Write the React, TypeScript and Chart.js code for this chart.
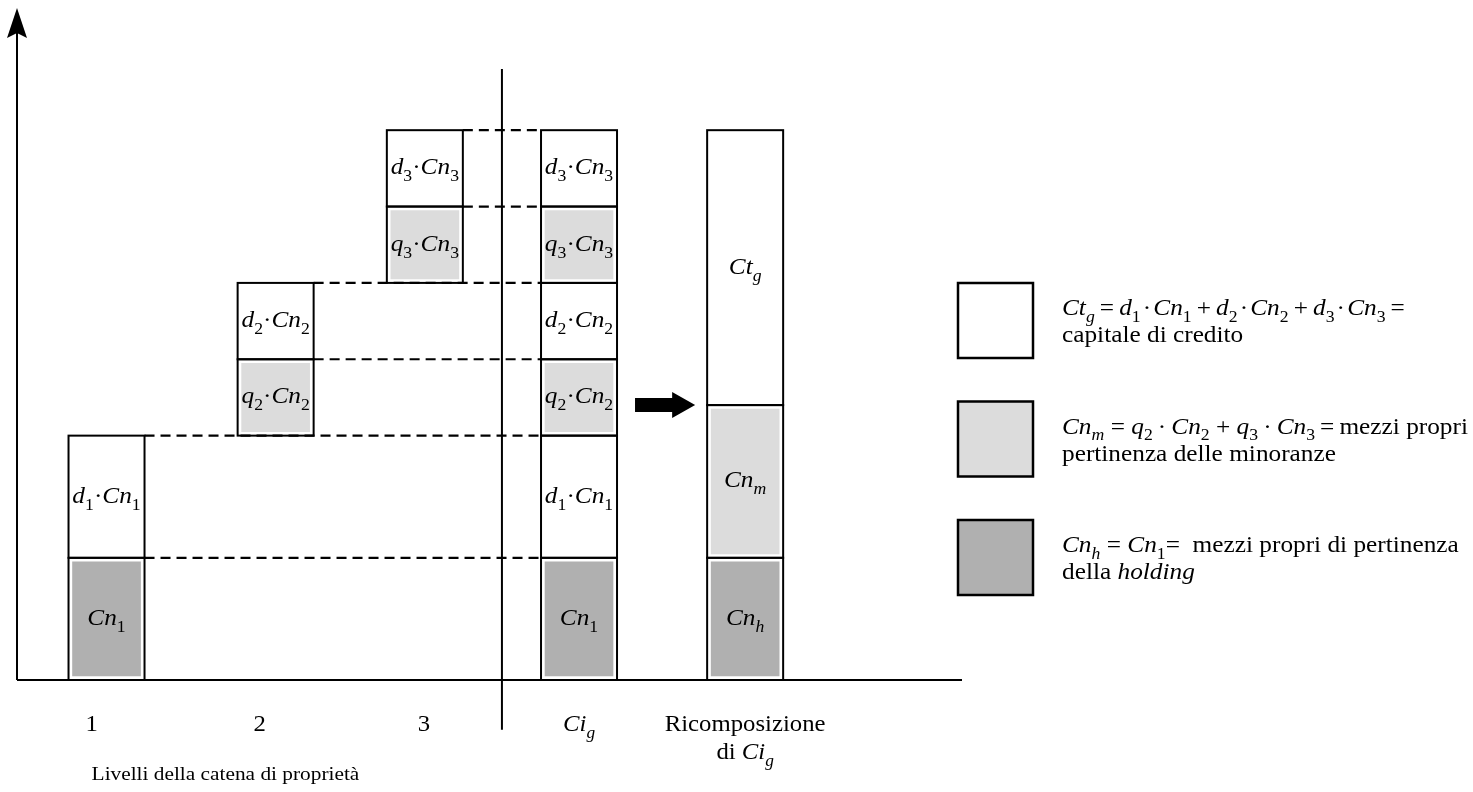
import React, { useEffect, useRef } from 'react';
import { Chart, registerables } from 'chart.js';

Chart.register(...registerables);

type Run = { t: string; i?: boolean; s?: boolean };

// ---- data ----
const CATEGORY_X = [0.9, 2.6, 4.1, 5.65, 7.32]; // levels 1,2,3, Ci_g, Ricomposizione
const TICK_X = [0.75, 2.44, 4.09, 5.65, 7.32];
const LEVEL_NAMES = ['1', '2', '3'];
const LEVEL_EQUITY = [1.6, 1, 1]; // Cn1 (holding), q2·Cn2, q3·Cn3
const LEVEL_DEBT = [1.6, 1, 1]; // d1·Cn1, d2·Cn2, d3·Cn3
const X_MAX = 9.5;
const Y_MAX = 8.8;
const DIVIDER_TOP = 8.0;
const DIVIDER_BOTTOM = -0.65;

const TS = '\u2009';
const HS = '\u200A';
const DOT = TS + '·' + TS;
const DOT_T = HS + '·' + HS;
const PLUS_T = TS + '+' + TS;

const TICK_LABELS: Run[][][] = [
  [[{ t: '1' }]],
  [[{ t: '2' }]],
  [[{ t: '3' }]],
  [[{ t: 'Ci', i: true }, { t: 'g', i: true, s: true }]],
  [[{ t: 'Ricomposizione' }], [{ t: 'di ' }, { t: 'Ci', i: true }, { t: 'g', i: true, s: true }]],
];
const AXIS_TITLE = 'Livelli della catena di proprietà';

const LEGEND_KINDS = ['credit', 'minority', 'holding'];
const LEGEND_TEXT: Run[][][] = [
  [
    [
      { t: 'Ct', i: true }, { t: 'g', i: true, s: true }, { t: TS + '=' + TS },
      { t: 'd', i: true }, { t: '1', s: true }, { t: DOT_T }, { t: 'Cn', i: true }, { t: '1', s: true }, { t: PLUS_T },
      { t: 'd', i: true }, { t: '2', s: true }, { t: DOT_T }, { t: 'Cn', i: true }, { t: '2', s: true }, { t: PLUS_T },
      { t: 'd', i: true }, { t: '3', s: true }, { t: DOT_T }, { t: 'Cn', i: true }, { t: '3', s: true }, { t: TS + '=' },
    ],
    [{ t: 'capitale di credito' }],
  ],
  [
    [
      { t: 'Cn', i: true }, { t: 'm', i: true, s: true }, { t: ' = ' },
      { t: 'q', i: true }, { t: '2', s: true }, { t: DOT }, { t: 'Cn', i: true }, { t: '2', s: true }, { t: ' + ' },
      { t: 'q', i: true }, { t: '3', s: true }, { t: DOT }, { t: 'Cn', i: true }, { t: '3', s: true },
      { t: TS + '=' + TS + 'mezzi propri di' },
    ],
    [{ t: 'pertinenza delle minoranze' }],
  ],
  [
    [
      { t: 'Cn', i: true }, { t: 'h', i: true, s: true }, { t: ' = ' },
      { t: 'Cn', i: true }, { t: '1', s: true }, { t: '=  mezzi propri di pertinenza' },
    ],
    [{ t: 'della ' }, { t: 'holding', i: true }],
  ],
];

const FILL: Record<string, string> = {
  credit: '#ffffff',
  minority: '#dcdcdc',
  holding: '#b0b0b0',
};

const FONT = '"Liberation Serif", "Times New Roman", serif';
const SX = 1.1;

interface Seg {
  x: number;
  y: [number, number];
  kind: string;
  label: Run[];
  dash?: boolean;
}

const sum = (a: number[]) => a.reduce((p, c) => p + c, 0);

function buildSegments(): Seg[] {
  const segs: Seg[] = [];
  let base = 0;
  LEVEL_EQUITY.forEach((eq, k) => {
    const n = LEVEL_NAMES[k];
    const eqLabel: Run[] =
      k === 0
        ? [{ t: 'Cn', i: true }, { t: n, s: true }]
        : [{ t: 'q', i: true }, { t: n, s: true }, { t: '·' }, { t: 'Cn', i: true }, { t: n, s: true }];
    const dLabel: Run[] = [{ t: 'd', i: true }, { t: n, s: true }, { t: '·' }, { t: 'Cn', i: true }, { t: n, s: true }];
    const kind = k === 0 ? 'holding' : 'minority';
    const e1 = base + eq;
    const d1 = e1 + LEVEL_DEBT[k];
    [CATEGORY_X[k], CATEGORY_X[3]].forEach((x, j) => {
      segs.push({ x, y: [base, e1], kind, label: eqLabel, dash: j === 0 });
      segs.push({ x, y: [e1, d1], kind: 'credit', label: dLabel, dash: j === 0 });
    });
    base = d1;
  });
  const h = LEVEL_EQUITY[0];
  const m = sum(LEVEL_EQUITY.slice(1));
  const c = sum(LEVEL_DEBT);
  const rx = CATEGORY_X[4];
  segs.push({ x: rx, y: [0, h], kind: 'holding', label: [{ t: 'Cn', i: true }, { t: 'h', i: true, s: true }] });
  segs.push({ x: rx, y: [h, h + m], kind: 'minority', label: [{ t: 'Cn', i: true }, { t: 'm', i: true, s: true }] });
  segs.push({ x: rx, y: [h + m, h + m + c], kind: 'credit', label: [{ t: 'Ct', i: true }, { t: 'g', i: true, s: true }] });
  return segs;
}

function runFont(r: Run, size: number) {
  const sz = r.s ? size * 0.7 : size;
  return `${r.i ? 'italic ' : ''}${sz}px ${FONT}`;
}

function richWidth(ctx: CanvasRenderingContext2D, runs: Run[], size: number) {
  let w = 0;
  runs.forEach((r) => {
    ctx.font = runFont(r, size);
    w += ctx.measureText(r.t).width;
  });
  return w * SX;
}

function drawRich(
  ctx: CanvasRenderingContext2D,
  runs: Run[],
  x: number,
  y: number,
  size: number,
  align: 'left' | 'center'
) {
  const w = richWidth(ctx, runs, size);
  const x0 = align === 'center' ? x - w / 2 : x;
  ctx.save();
  ctx.translate(x0, y);
  ctx.scale(SX, 1);
  ctx.fillStyle = '#000';
  ctx.textBaseline = 'alphabetic';
  ctx.textAlign = 'left';
  let cx = 0;
  runs.forEach((r) => {
    ctx.font = runFont(r, size);
    ctx.fillText(r.t, cx, r.s ? size * 0.3 : 0);
    cx += ctx.measureText(r.t).width;
  });
  ctx.restore();
}

const diagramPlugin = {
  id: 'diagram',
  afterDatasetsDraw(chart: any) {
    const ctx: CanvasRenderingContext2D = chart.ctx;
    const { chartArea } = chart;
    const xs = chart.scales.x;
    const ys = chart.scales.y;
    const meta = chart.getDatasetMeta(0);
    const segs: Seg[] = chart.data.datasets[0].data;
    const half = 38;
    ctx.save();

    // outlines of bar segments
    ctx.strokeStyle = '#000';
    ctx.lineWidth = 2;
    meta.data.forEach((el: any) => {
      const p = el.getProps(['x', 'y', 'base', 'width'], true);
      const top = Math.min(p.y, p.base);
      ctx.strokeRect(p.x - p.width / 2, top, p.width, Math.abs(p.base - p.y));
    });

    // dashed lines from the levels to Ci_g
    const ciLeft = xs.getPixelForValue(CATEGORY_X[3]) - half;
    ctx.setLineDash([10, 6]);
    ctx.lineWidth = 2.2;
    segs.forEach((s) => {
      if (!s.dash) return;
      const y = ys.getPixelForValue(s.y[1]);
      ctx.beginPath();
      ctx.moveTo(xs.getPixelForValue(s.x) + half, y);
      ctx.lineTo(ciLeft, y);
      ctx.stroke();
    });
    ctx.setLineDash([]);

    // axes
    ctx.lineWidth = 2;
    ctx.beginPath();
    ctx.moveTo(chartArea.left, chartArea.bottom);
    ctx.lineTo(chartArea.right, chartArea.bottom);
    ctx.moveTo(chartArea.left, chartArea.bottom);
    ctx.lineTo(chartArea.left, chartArea.top + 20);
    ctx.stroke();
    ctx.fillStyle = '#000';
    ctx.beginPath();
    ctx.moveTo(chartArea.left, chartArea.top);
    ctx.lineTo(chartArea.left - 10, chartArea.top + 30);
    ctx.lineTo(chartArea.left, chartArea.top + 25);
    ctx.lineTo(chartArea.left + 10, chartArea.top + 30);
    ctx.closePath();
    ctx.fill();

    // divider
    const dx = xs.getPixelForValue((CATEGORY_X[2] + CATEGORY_X[3]) / 2);
    ctx.beginPath();
    ctx.moveTo(dx, ys.getPixelForValue(DIVIDER_TOP));
    ctx.lineTo(dx, ys.getPixelForValue(DIVIDER_BOTTOM));
    ctx.stroke();

    // block arrow
    const ay = ys.getPixelForValue(sum(LEVEL_EQUITY));
    const a0 = xs.getPixelForValue(CATEGORY_X[3]) + half + 18;
    const a2 = xs.getPixelForValue(CATEGORY_X[4]) - half - 12;
    const a1 = a2 - 23;
    ctx.beginPath();
    ctx.moveTo(a0, ay - 7);
    ctx.lineTo(a1, ay - 7);
    ctx.lineTo(a1, ay - 13);
    ctx.lineTo(a2, ay);
    ctx.lineTo(a1, ay + 13);
    ctx.lineTo(a1, ay + 7);
    ctx.lineTo(a0, ay + 7);
    ctx.closePath();
    ctx.fill();

    // labels inside segments
    meta.data.forEach((el: any, i: number) => {
      const p = el.getProps(['x', 'y', 'base'], true);
      const cy = (p.y + p.base) / 2;
      drawRich(ctx, segs[i].label, p.x, cy + 6, 23, 'center');
    });

    // tick labels
    TICK_LABELS.forEach((lines, k) => {
      const x = xs.getPixelForValue(TICK_X[k]);
      lines.forEach((runs, j) => {
        drawRich(ctx, runs, x, chartArea.bottom + 51 + j * 28, 22.5, 'center');
      });
    });
    drawRich(ctx, [{ t: AXIS_TITLE }], xs.getPixelForValue(TICK_X[0]), chartArea.bottom + 100, 19.4, 'left');

    // legend
    const lx = chartArea.right - 4;
    LEGEND_KINDS.forEach((kind, k) => {
      const top = 283 + k * 118.5;
      ctx.fillStyle = FILL[kind];
      ctx.fillRect(lx, top, 75, 75);
      ctx.lineWidth = 2.5;
      ctx.strokeStyle = '#000';
      ctx.strokeRect(lx, top, 75, 75);
      LEGEND_TEXT[k].forEach((runs, j) => {
        drawRich(ctx, runs, lx + 104, top + 32 + j * 27, 23, 'left');
      });
    });
    ctx.restore();
  },
};

export default function App() {
  const ref = useRef<HTMLCanvasElement | null>(null);
  useEffect(() => {
    if (!ref.current) return;
    const segs = buildSegments();
    const chart = new Chart(ref.current, {
      type: 'bar',
      data: {
        datasets: [
          {
            data: segs as any,
            parsing: { xAxisKey: 'x', yAxisKey: 'y' },
            backgroundColor: (c: any) => FILL[c.raw?.kind] ?? '#fff',
            borderColor: '#ffffff',
            borderWidth: 4,
            borderSkipped: false,
            barThickness: 76,
            grouped: false,
          } as any,
        ],
      },
      options: {
        animation: false,
        responsive: true,
        maintainAspectRatio: false,
        events: [],
        layout: { padding: { left: 17, right: 511, top: 8, bottom: 112 } },
        plugins: { legend: { display: false }, tooltip: { enabled: false } },
        scales: {
          x: { type: 'linear', min: 0, max: X_MAX, display: false, offset: false },
          y: { type: 'linear', min: 0, max: Y_MAX, display: false },
        },
      },
      plugins: [diagramPlugin],
    });
    return () => chart.destroy();
  }, []);
  return (
    <div style={{ position: 'fixed', left: 0, top: 0, width: 1473, height: 792, background: '#fff' }}>
      <canvas ref={ref} />
    </div>
  );
}
